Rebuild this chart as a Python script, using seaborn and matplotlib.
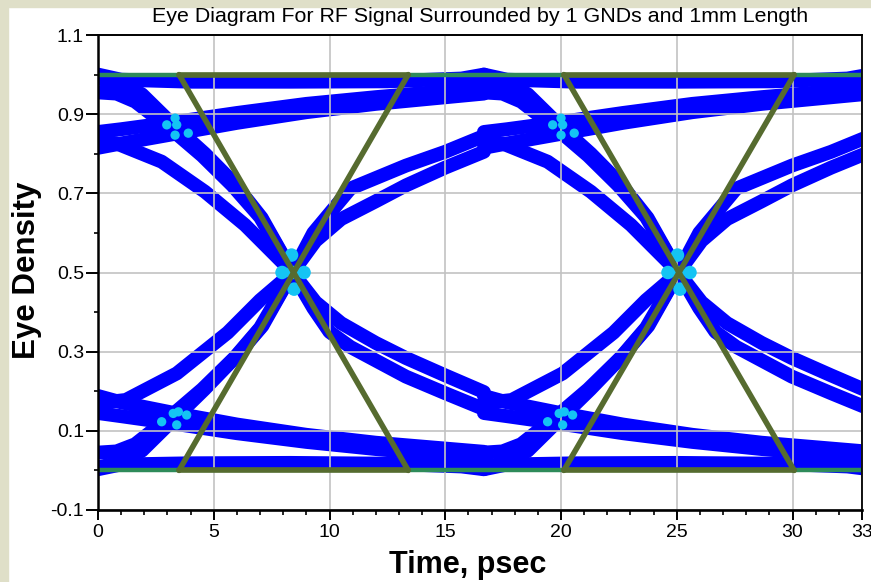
import numpy as np
import pandas as pd
import matplotlib
matplotlib.use("Agg")
import matplotlib.pyplot as plt
from matplotlib.patches import Rectangle
import seaborn as sns

# ---------------------------------------------------------------------------
# Eye data: one unit interval of each waveform family (time in ps, amplitude).
# The eye window holds two unit intervals, so every family is laid down twice.
# ---------------------------------------------------------------------------
UI = 16.67
ui_offsets = [0.0, UI]

# steady levels
high_t = [0.0, 1.0, 4.0, 8.3, 12.5, 15.7, 16.67]
high_v = [1.0, 0.987, 0.982, 0.982, 0.983, 0.99, 1.0]
low_t = [0.0, 1.0, 4.0, 8.3, 12.5, 15.7, 16.67]
low_v = [0.003, 0.015, 0.018, 0.019, 0.017, 0.01, 0.003]

# slow settling after an edge
settle_t = [0.0, 1.0, 3.3, 6.0, 9.0, 12.0, 16.67]
rise_slow_a = [0.855, 0.862, 0.88, 0.903, 0.926, 0.943, 0.966]
rise_slow_b = [0.815, 0.826, 0.85, 0.878, 0.905, 0.926, 0.952]
fall_slow_a = [0.188, 0.172, 0.145, 0.116, 0.09, 0.07, 0.047]
fall_slow_b = [0.145, 0.137, 0.118, 0.094, 0.072, 0.054, 0.03]

# edges up to the crossing point
fall_hi_a_t = [0.0, 1.0, 1.9, 3.33, 4.62, 5.92, 7.07, 8.4]
fall_hi_a_v = [0.99, 0.98, 0.95, 0.868, 0.8, 0.723, 0.638, 0.5]
fall_hi_b_t = [0.0, 0.8, 1.6, 3.2, 4.5, 5.8, 7.0, 8.4]
fall_hi_b_v = [0.955, 0.952, 0.932, 0.86, 0.795, 0.72, 0.64, 0.5]
fall_mid_t = [0.0, 0.8, 2.75, 4.62, 6.35, 8.4]
fall_mid_v = [0.83, 0.826, 0.78, 0.704, 0.62, 0.5]
rise_lo_a_t = [0.0, 1.0, 1.9, 3.2, 4.6, 6.0, 7.1, 8.4]
rise_lo_a_v = [0.008, 0.02, 0.05, 0.125, 0.205, 0.29, 0.365, 0.5]
rise_lo_b_t = [0.0, 0.8, 1.6, 3.1, 4.5, 5.9, 7.0, 8.4]
rise_lo_b_v = [0.045, 0.048, 0.066, 0.135, 0.205, 0.285, 0.36, 0.5]
rise_mid_t = [0.0, 1.2, 3.4, 5.6, 7.0, 8.4]
rise_mid_v = [0.17, 0.178, 0.245, 0.348, 0.43, 0.5]

# edges after the crossing point
fall_post_a_t = [8.4, 9.4, 10.5, 12.0, 13.3, 15.0, 16.67]
fall_post_a_v = [0.5, 0.425, 0.372, 0.322, 0.284, 0.24, 0.198]
fall_post_b_t = [8.4, 9.3, 10.0, 10.9, 13.3, 15.0, 16.67]
fall_post_b_v = [0.5, 0.41, 0.35, 0.312, 0.237, 0.195, 0.155]
rise_post_a_t = [8.4, 9.3, 10.9, 13.3, 15.0, 16.67]
rise_post_a_v = [0.5, 0.6, 0.712, 0.77, 0.805, 0.845]
rise_post_b_t = [8.4, 9.4, 10.5, 12.0, 13.3, 15.0, 16.67]
rise_post_b_v = [0.5, 0.58, 0.635, 0.68, 0.72, 0.765, 0.805]

# density hot spots (one unit interval)
hot_cross_t = [8.4, 8.36, 8.47, 7.95, 8.9]
hot_cross_v = [0.5, 0.544, 0.458, 0.5, 0.5]
hot_side_t = [2.97, 3.33, 3.40, 3.33, 3.90, 2.75, 3.25, 3.47, 3.83, 3.40]
hot_side_v = [0.873, 0.89, 0.873, 0.847, 0.852, 0.123, 0.144, 0.148, 0.14, 0.115]

# eye mask: left / right vertex times of each hexagon, rail levels
mask_left = [3.5, 20.12]
mask_right = [13.4, 30.07]
rail_levels = [0.0, 1.0]

# axis ticks
x_major = [0, 5, 10, 15, 20, 25, 30, 33]
y_major = [-0.1, 0.1, 0.3, 0.5, 0.7, 0.9, 1.1]
y_minor = [0.0, 0.2, 0.4, 0.6, 0.8, 1.0]

families = {
    "high": (high_t, high_v),
    "low": (low_t, low_v),
    "rise_slow_a": (settle_t, rise_slow_a),
    "rise_slow_b": (settle_t, rise_slow_b),
    "fall_slow_a": (settle_t, fall_slow_a),
    "fall_slow_b": (settle_t, fall_slow_b),
    "fall_hi_a": (fall_hi_a_t, fall_hi_a_v),
    "fall_hi_b": (fall_hi_b_t, fall_hi_b_v),
    "fall_mid": (fall_mid_t, fall_mid_v),
    "rise_lo_a": (rise_lo_a_t, rise_lo_a_v),
    "rise_lo_b": (rise_lo_b_t, rise_lo_b_v),
    "rise_mid": (rise_mid_t, rise_mid_v),
    "fall_post_a": (fall_post_a_t, fall_post_a_v),
    "fall_post_b": (fall_post_b_t, fall_post_b_v),
    "rise_post_a": (rise_post_a_t, rise_post_a_v),
    "rise_post_b": (rise_post_b_t, rise_post_b_v),
}

rows = []
for k, off in enumerate(ui_offsets):
    for name, (ts, vs) in families.items():
        for t, v in zip(ts, vs):
            rows.append({"t": t + off, "v": v, "trace": f"{name}_{k}"})
eye = pd.DataFrame(rows)

hot_rows = []
for off in ui_offsets:
    for t, v in zip(hot_cross_t, hot_cross_v):
        hot_rows.append({"t": t + off, "v": v, "kind": "cross"})
    for t, v in zip(hot_side_t, hot_side_v):
        hot_rows.append({"t": t + off, "v": v, "kind": "side"})
hot = pd.DataFrame(hot_rows)

# ---------------------------------------------------------------------------
sns.set_theme(style="white")
plt.rcParams["font.family"] = ["Liberation Sans", "DejaVu Sans"]

W, H = 871, 582
fig = plt.figure(figsize=(W / 100, H / 100), dpi=100)
fig.patch.set_facecolor("white")
strip = "#DFDFC8"
fig.add_artist(Rectangle((0, 1 - 7 / H), 1, 7 / H, transform=fig.transFigure,
                         color=strip, zorder=-1))
fig.add_artist(Rectangle((0, 0), 8 / W, 1, transform=fig.transFigure,
                         color=strip, zorder=-1))

ax = fig.add_axes([98 / W, 1 - 510 / H, 764 / W, 475 / H])
ax.set_facecolor("white")

sns.lineplot(data=eye, x="t", y="v", units="trace", estimator=None, sort=False,
             color="#0000FF", linewidth=10, solid_capstyle="round",
             legend=False, ax=ax, zorder=2)

sns.scatterplot(data=hot[hot["kind"] == "cross"], x="t", y="v", s=95,
                color="#14C4F4", edgecolor="none", legend=False, ax=ax, zorder=3)
sns.scatterplot(data=hot[hot["kind"] == "side"], x="t", y="v", s=45,
                color="#14C4F4", edgecolor="none", legend=False, ax=ax, zorder=3)

# rails across the window
for lv in rail_levels:
    ax.plot([0, 33], [lv, lv], color="#2E8B5A", lw=3.2, zorder=4,
            solid_capstyle="butt")

# eye masks
olive = "#566B2F"
for l, r in zip(mask_left, mask_right):
    ax.plot([l, r], [1.0, 0.0], color=olive, lw=4, zorder=5)
    ax.plot([l, r], [0.0, 1.0], color=olive, lw=4, zorder=5)
    ax.plot([l, r], [1.0, 1.0], color=olive, lw=4, zorder=5)
    ax.plot([l, r], [0.0, 0.0], color=olive, lw=4, zorder=5)

ax.set_xlim(0, 33)
ax.set_ylim(-0.1, 1.1)
ax.set_xticks(x_major)
ax.set_xticklabels([str(v) for v in x_major])
ax.set_xticks(np.arange(0, 34), minor=True)
ax.set_yticks(y_major)
ax.set_yticklabels([f"{v:.1f}" for v in y_major])
ax.set_yticks(y_minor, minor=True)

ax.set_axisbelow(False)
ax.grid(True, which="major", color="#C2C2C2", linewidth=1.2)
ax.tick_params(axis="both", which="both", direction="out", colors="black",
               bottom=True, left=True, top=False, right=False)
ax.tick_params(axis="x", which="major", length=7, width=1.4, labelsize=14, pad=3)
ax.tick_params(axis="x", which="minor", length=3.6, width=1.2)
ax.tick_params(axis="y", which="major", length=9, width=1.4, labelsize=14, pad=1)
ax.tick_params(axis="y", which="minor", length=3.2, width=1.2)

for side, lw in [("left", 1.8), ("bottom", 1.9), ("top", 1.4), ("right", 1.3)]:
    ax.spines[side].set_visible(True)
    ax.spines[side].set_color("black")
    ax.spines[side].set_linewidth(lw)
    ax.spines[side].set_zorder(6)

ax.set_title("Eye Diagram For RF Signal Surrounded by 1 GNDs and 1mm Length",
             fontsize=15.4, pad=9, color="black")
ax.set_xlabel("Time, psec", fontsize=22, fontweight="bold", color="black")
ax.xaxis.set_label_coords(468 / W, 1 - 573 / H, transform=fig.transFigure)
ax.xaxis.label.set_va("baseline")
ax.set_ylabel("Eye Density", fontsize=22.5, fontweight="bold", color="black")
ax.yaxis.set_label_coords(26.5 / W, 1 - 270 / H, transform=fig.transFigure)
ax.yaxis.label.set_va("center")

fig.savefig("out.png", dpi=100)
